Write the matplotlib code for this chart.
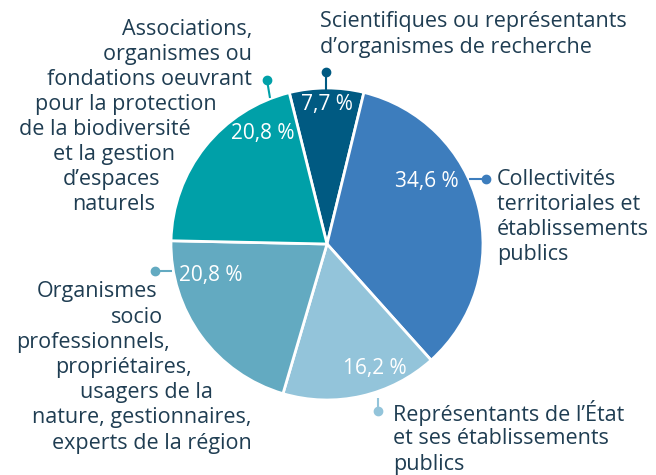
import matplotlib
matplotlib.use("Agg")
import matplotlib.pyplot as plt

# ---- data ----
categories = [
    "Scientifiques ou représentants\nd’organismes de recherche",
    "Collectivités\nterritoriales et\nétablissements\npublics",
    "Représentants de l’État\net ses établissements\npublics",
    "Organismes\nsocio\nprofessionnels,\npropriétaires,\nusagers de la\nnature, gestionnaires,\nexperts de la région",
    "Associations,\norganismes ou\nfondations oeuvrant\npour la protection\nde la biodiversité\net la gestion\nd’espaces\nnaturels",
]
values = [7.7, 34.6, 16.2, 20.8, 20.8]
pct_labels = ["7,7 %", "34,6 %", "16,2 %", "20,8 %", "20,8 %"]
colors = ["#005a82", "#3d7dbd", "#93c4da", "#63aac1", "#00a0a8"]

TEXT = "#1f3d52"
FONT = "Open Sans"
FS = 15.5

W, H = 656, 475
CX, CY, R = 327, 244, 156

fig = plt.figure(figsize=(W / 100, H / 100), dpi=100)
ax = fig.add_axes([0, 0, 1, 1])

ax.pie(values, colors=colors, startangle=104, counterclock=False, radius=1,
       wedgeprops=dict(edgecolor="white", linewidth=2))
ax.set_xlim(-CX / R, (W - CX) / R)
ax.set_ylim(-(H - CY) / R, CY / R)
ax.set_aspect("equal")
ax.axis("off")


def P(px, py):
    return ((px - CX) / R, (CY - py) / R)


# percentage labels (pixel positions)
pct_pos = [(327, 105), (427, 182), (375, 369), (211, 276), (263, 134)]
for lab, (px, py) in zip(pct_labels, pct_pos):
    x, y = P(px, py)
    ax.text(x, y, lab, color="white", fontsize=15, family=FONT,
            ha="center", va="center")

# leader lines: (circle point, dot point)
leaders = [((326, 90), (326, 72)),
           ((469, 179), (486, 179)),
           ((378, 398), (378, 411)),
           ((172, 271), (155, 271)),
           ((270, 98), (267, 80))]
for c, (a, b) in zip(colors, leaders):
    xa, ya = P(*a)
    xb, yb = P(*b)
    ax.plot([xa, xb], [ya, yb], color=c, lw=1.5, solid_capstyle="butt")
    ax.plot([xb], [yb], "o", color=c, ms=6)

# category labels placed line by line
lines = categories[0].split("\n")
for i, ln in enumerate(lines):
    x, y = P(320, 22 + i * 26)
    ax.text(x, y, ln, color=TEXT, fontsize=FS, family=FONT, ha="left", va="center")
lines = categories[1].split("\n")
for i, ln in enumerate(lines):
    x, y = P(497, 180 + i * 24.7)
    ax.text(x, y, ln, color=TEXT, fontsize=FS, family=FONT, ha="left", va="center")
lines = categories[2].split("\n")
for i, ln in enumerate(lines):
    x, y = P(393, 413 + i * 26)
    ax.text(x, y, ln, color=TEXT, fontsize=FS, family=FONT, ha="left", va="center")
lines = categories[3].split("\n")
rights = [157, 163, 170, 192, 213, 252, 252]
for i, (ln, rx) in enumerate(zip(lines, rights)):
    x, y = P(rx, 292 + i * 25.2)
    ax.text(x, y, ln, color=TEXT, fontsize=FS, family=FONT, ha="right", va="center")
lines = categories[4].split("\n")
rights = [252, 252, 252, 217, 191, 175, 160, 155]
for i, (ln, rx) in enumerate(zip(lines, rights)):
    x, y = P(rx, 30 + i * 25)
    ax.text(x, y, ln, color=TEXT, fontsize=FS, family=FONT, ha="right", va="center")

fig.savefig("out.png", dpi=100, facecolor="white")
